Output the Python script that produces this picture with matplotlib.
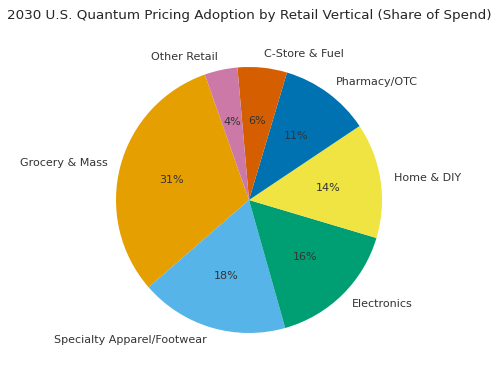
import matplotlib
matplotlib.use("Agg")
import matplotlib.pyplot as plt

categories = ["Grocery & Mass", "Specialty Apparel/Footwear", "Electronics",
              "Home & DIY", "Pharmacy/OTC", "C-Store & Fuel", "Other Retail"]
shares = [31, 18, 16, 14, 11, 6, 4]
colors = ["#E69F00", "#56B4E9", "#009E73", "#F0E442", "#0072B2", "#D55E00", "#CC79A7"]
title = "2030 U.S. Quantum Pricing Adoption by Retail Vertical (Share of Spend)"

fig = plt.figure(figsize=(4.99, 3.76), dpi=100)
ax = fig.add_axes([82.75 / 499, 9.75 / 376, 332.5 / 499, 332.5 / 376])
wedges, texts, autotexts = ax.pie(
    shares, labels=categories, colors=colors, startangle=109.4,
    autopct="%1.0f%%", pctdistance=0.6, labeldistance=1.1,
    textprops={"fontsize": 8, "color": "#333333"},
)
ax.set_xlim(-1.25, 1.25)
ax.set_ylim(-1.25, 1.25)
ax.set_aspect("equal")
fig.text(0.5, 1 - 16 / 376, title, ha="center", va="center", fontsize=9.7, color="#262626")
fig.savefig("out.png", dpi=100)
